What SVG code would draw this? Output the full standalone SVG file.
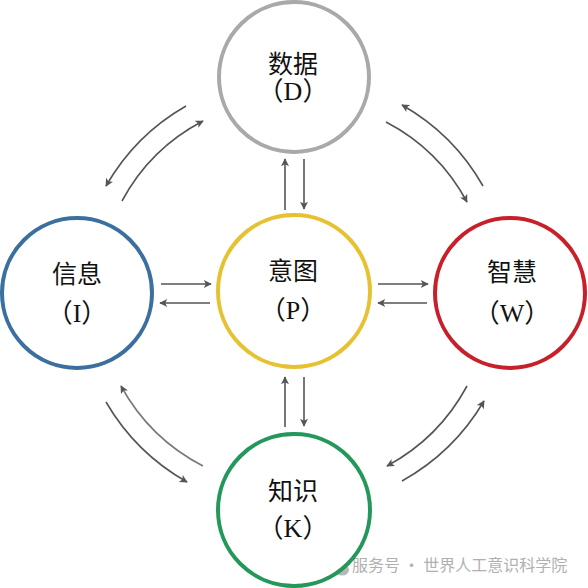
<svg xmlns="http://www.w3.org/2000/svg" width="588" height="588" viewBox="0 0 588 588">
<style>
.node{fill:#fff;stroke-width:4}
.name{font-family:"Noto Sans CJK SC","Noto Sans CJK JP",sans-serif;font-size:25px;fill:#111;text-anchor:middle}
.abbr{font-family:"Liberation Serif","Noto Sans CJK SC",serif;font-size:26px;fill:#111;text-anchor:middle}
.c{fill:none;stroke:#555;stroke-width:1.6;marker-end:url(#ah)}
.wm{font-family:"Noto Sans CJK SC",sans-serif;font-size:16px;fill:#b0b0b0}
</style>
<defs>
<marker id="ah" viewBox="0 0 10 10" refX="9" refY="5" markerWidth="9" markerHeight="8" markerUnits="userSpaceOnUse" orient="auto">
<path d="M0,0 L10,5 L0,10 L2.5,5 z" fill="#555"/>
</marker>
</defs>
<rect width="588" height="588" fill="#fff"/>
<g id="watermark">
<ellipse cx="333" cy="565" rx="8" ry="6.5" fill="#c4c4c4"/>
<ellipse cx="342" cy="570" rx="7" ry="5.5" fill="#b8b8b8"/>
<text class="wm" x="352" y="571">服务号 · 世界人工意识科学院</text>
</g>
<g id="connectors">
<line class="c" x1="285" y1="210" x2="285" y2="159"/>
<line class="c" x1="304" y1="159" x2="304" y2="209"/>
<line class="c" x1="285" y1="427" x2="285" y2="377"/>
<line class="c" x1="304" y1="377" x2="304" y2="426"/>
<line class="c" x1="161" y1="284" x2="211" y2="284"/>
<line class="c" x1="210" y1="303" x2="160" y2="303"/>
<line class="c" x1="378" y1="284" x2="428" y2="284"/>
<line class="c" x1="427" y1="303" x2="378" y2="303"/>
<path class="c" d="M186,106 A215,215 0 0 0 106,186"/>
<path class="c" d="M122,201 A193,193 0 0 1 203,121"/>
<path class="c" d="M483,186 A215,215 0 0 0 402,105"/>
<path class="c" d="M386,122 A193,193 0 0 1 467,202"/>
<path class="c" d="M106,402 A218,218 0 0 0 187,482"/>
<path class="c" d="M203,466 A196,196 0 0 1 121,386" style="stroke:#7a7a7a"/>
<path class="c" d="M467,386 A197,197 0 0 1 387,466"/>
<path class="c" d="M402,481 A219,219 0 0 0 484,401"/>
</g>
<g id="D">
<circle class="node" cx="294" cy="77" r="75" stroke="#a9a9a9"/>
<text class="name" x="293" y="73">数据</text>
<text class="abbr" x="293" y="100">（D）</text>
</g>
<g id="I">
<circle class="node" cx="77" cy="293" r="75" stroke="#3a6f9f"/>
<text class="name" x="77" y="283">信息</text>
<text class="abbr" x="77" y="322">（I）</text>
</g>
<g id="P">
<circle class="node" cx="294" cy="291" r="76" stroke="#e6c232"/>
<text class="name" x="293" y="280">意图</text>
<text class="abbr" x="293" y="319">（P）</text>
</g>
<g id="W">
<circle class="node" cx="510" cy="293" r="75" stroke="#c8202a"/>
<text class="name" x="512" y="281">智慧</text>
<text class="abbr" x="512" y="322">（W）</text>
</g>
<g id="K">
<circle class="node" cx="294" cy="510" r="76" stroke="#24985a"/>
<text class="name" x="293" y="500">知识</text>
<text class="abbr" x="293" y="537">（K）</text>
</g>
</svg>
